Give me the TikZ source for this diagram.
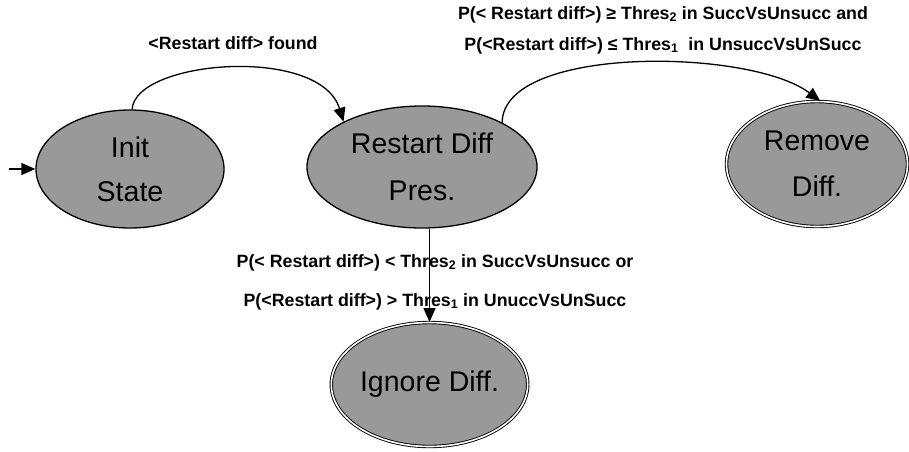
\documentclass[tikz,border=0pt]{standalone}
\usepackage{fontspec}
\setmainfont{Liberation Sans}
\usetikzlibrary{shapes.geometric,arrows.meta}
\definecolor{stategray}{RGB}{153,153,153}
\begin{document}
\begin{tikzpicture}[x=1pt,y=-1pt,
  state/.style={ellipse, draw=black, line width=1.3pt, fill=stategray, inner sep=0pt,
                font=\fontsize{28.5}{30}\selectfont, align=center},
  final/.style={state, line width=0.9pt, double=white, double distance=1.6pt},
  lbl/.style={font=\bfseries\fontsize{17.8}{19}\selectfont, align=center, inner sep=0pt},
  arr/.style={-{Triangle[length=14pt,width=12pt]}, line width=1.3pt}
]
\useasboundingbox (0,0) rectangle (909,451);

\node[state, minimum width=188pt, minimum height=118pt] (init) at (130,169) {Init\\[14pt]State};
\node[state, minimum width=230pt, minimum height=122pt] (restart) at (422,167) {Restart Diff\\[17pt]Pres.};
\node[final, minimum width=181pt, minimum height=125pt] (remove) at (817,164) {Remove\\[16pt]Diff.};
\node[final, minimum width=190pt, minimum height=124pt] (ignore) at (429.5,384.5) {Ignore Diff.};

\coordinate (start) at (9,169);
\draw[arr] (start) -- (init.west);
\draw[arr] (init.88) .. controls (135,60) and (320,45) .. (restart.150);
\draw[arr] (restart.29) .. controls (503,45) and (750,48) .. (remove.87);
\draw[arr] (restart.south -| ignore.north) -- (ignore.north);

\node[lbl] (found) at (233,43) {<Restart diff> found};
\node[lbl] (remlbl) at (663,30) {P(< Restart diff>) ≥ Thres\textsubscript{2} in SuccVsUnsucc and\\[12pt]P(<Restart diff>) ≤ Thres\textsubscript{1}\ \ in UnsuccVsUnSucc};
\node[lbl] (ignlbl) at (435,282) {P(< Restart diff>) < Thres\textsubscript{2} in SuccVsUnsucc or\\[20pt]P(<Restart diff>) > Thres\textsubscript{1} in UnuccVsUnSucc};
\end{tikzpicture}
\end{document}
